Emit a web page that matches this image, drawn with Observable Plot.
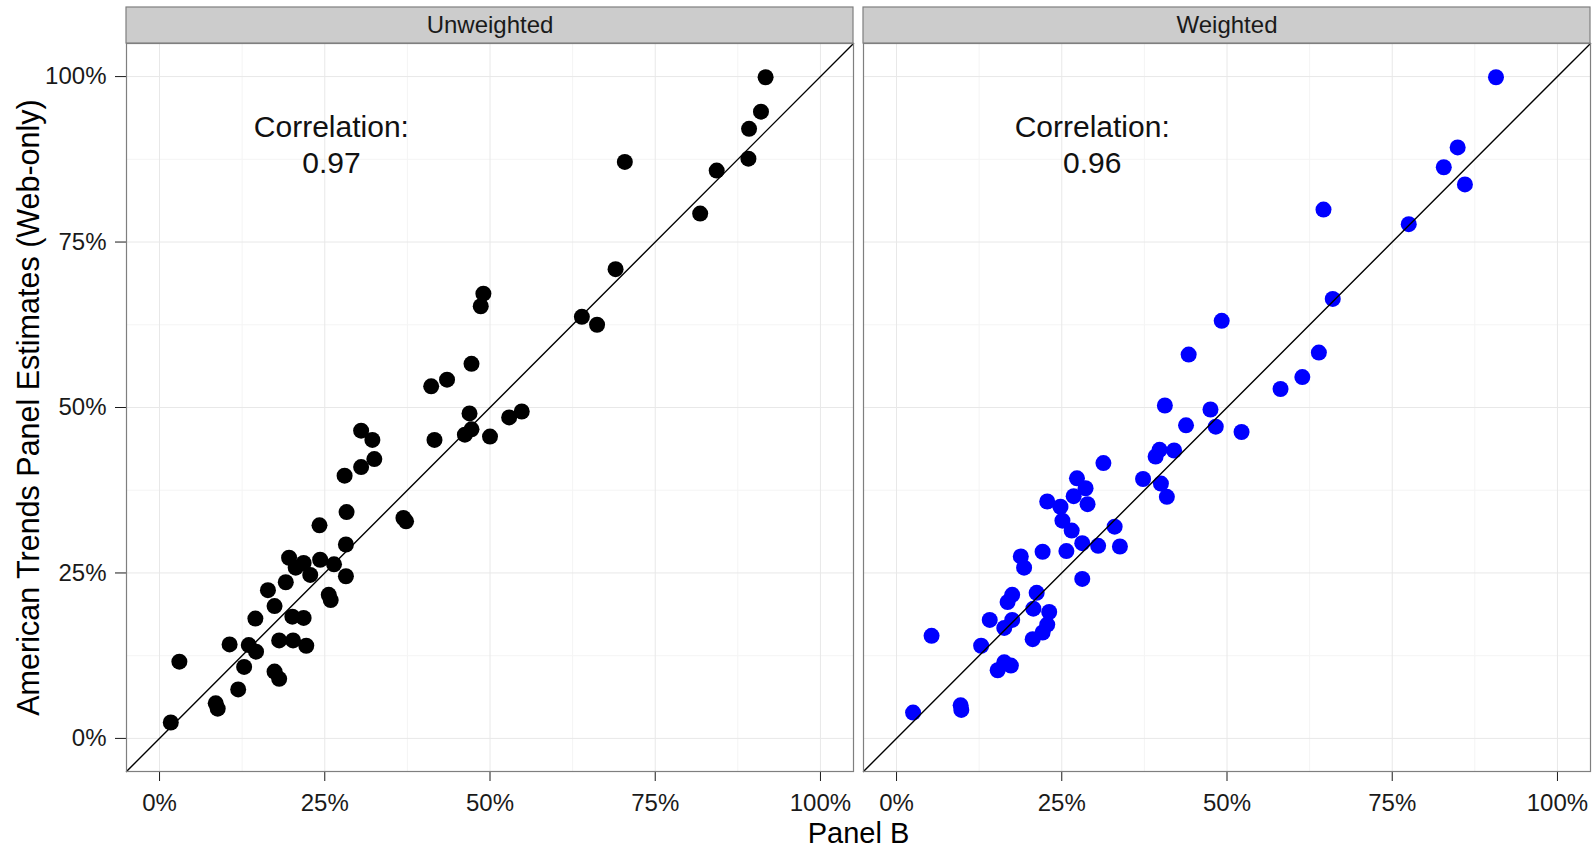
<!DOCTYPE html>
<html>
<head>
<meta charset="utf-8">
<script src="https://cdn.jsdelivr.net/npm/d3@7"></script>
<script src="https://cdn.jsdelivr.net/npm/@observablehq/plot@0.6"></script>
<style>
  html, body { margin: 0; padding: 0; background: #ffffff; }
</style>
</head>
<body>
<div id="chart"></div>
<script>
// Facet panels and the correlation reported in each
const panels = ["Unweighted", "Weighted"];
const correlations = [0.97, 0.96];

// Axis breaks (shares); major breaks are labelled, minor ones only get a grid line
const tickValues = [0, 0.25, 0.5, 0.75, 1];
const minorTickValues = [0.125, 0.375, 0.625, 0.875];

// Unweighted estimates: Panel B (x) vs American Trends Panel web-only (y)
const unweightedPanelB = [
  0.017, 0.030, 0.085, 0.088, 0.119, 0.128, 0.106, 0.135, 0.146, 0.145,
  0.164, 0.174, 0.174, 0.181, 0.181, 0.202, 0.222, 0.201, 0.218, 0.191,
  0.196, 0.206, 0.218, 0.228, 0.243, 0.264, 0.282, 0.282, 0.256, 0.259,
  0.242, 0.283, 0.280, 0.305, 0.305, 0.322, 0.325, 0.369, 0.373, 0.411,
  0.435, 0.416, 0.472, 0.490, 0.486, 0.469, 0.462, 0.472, 0.500, 0.529,
  0.548, 0.639, 0.662, 0.690, 0.704, 0.818, 0.843, 0.891, 0.892, 0.910,
  0.917
];
const unweightedATP = [
  0.024, 0.116, 0.053, 0.045, 0.074, 0.108, 0.142, 0.141, 0.131, 0.181,
  0.224, 0.200, 0.101, 0.090, 0.148, 0.148, 0.140, 0.184, 0.182, 0.236,
  0.273, 0.258, 0.265, 0.247, 0.270, 0.263, 0.293, 0.245, 0.217, 0.209,
  0.322, 0.342, 0.397, 0.410, 0.465, 0.451, 0.422, 0.333, 0.328, 0.532,
  0.542, 0.451, 0.566, 0.672, 0.653, 0.491, 0.459, 0.467, 0.456, 0.485,
  0.494, 0.637, 0.625, 0.709, 0.871, 0.793, 0.858, 0.876, 0.921, 0.947,
  0.999
];

// Weighted estimates: Panel B (x) vs American Trends Panel web-only (y)
const weightedPanelB = [
  0.025, 0.097, 0.098, 0.053, 0.128, 0.153, 0.163, 0.173, 0.141, 0.163,
  0.175, 0.168, 0.175, 0.206, 0.212, 0.207, 0.231, 0.228, 0.221, 0.188,
  0.193, 0.221, 0.281, 0.257, 0.281, 0.305, 0.338, 0.330, 0.265, 0.251,
  0.228, 0.248, 0.273, 0.268, 0.286, 0.289, 0.313, 0.373, 0.400, 0.409,
  0.392, 0.398, 0.420, 0.406, 0.438, 0.475, 0.483, 0.522, 0.442, 0.492,
  0.581, 0.614, 0.639, 0.646, 0.660, 0.775, 0.828, 0.849, 0.860, 0.907
];
const weightedATP = [
  0.039, 0.050, 0.043, 0.155, 0.140, 0.103, 0.115, 0.110, 0.179, 0.167,
  0.179, 0.206, 0.217, 0.150, 0.220, 0.196, 0.191, 0.172, 0.160, 0.275,
  0.258, 0.282, 0.241, 0.283, 0.295, 0.291, 0.290, 0.320, 0.314, 0.329,
  0.358, 0.350, 0.393, 0.366, 0.378, 0.354, 0.416, 0.392, 0.385, 0.365,
  0.426, 0.436, 0.435, 0.503, 0.473, 0.497, 0.471, 0.463, 0.580, 0.631,
  0.528, 0.546, 0.583, 0.799, 0.664, 0.777, 0.863, 0.893, 0.837, 0.999
];

const unweightedPoints = unweightedPanelB.map((x, i) => ({panel: panels[0], x, y: unweightedATP[i]}));
const weightedPoints = weightedPanelB.map((x, i) => ({panel: panels[1], x, y: weightedATP[i]}));

// Layout
const width = 1596, height = 847;
const marginLeft = 125, marginRight = 5, marginTop = 43, marginBottom = 76;
const domain = [-0.05, 1.05];
const pxPerUnit = (height - marginTop - marginBottom) / (domain[1] - domain[0]);
const stripTop = domain[1] + 36 / pxPerUnit;   // grey facet strip, 36px tall
const pct = d3.format(".0%");

const chart = Plot.plot({
  width, height, marginLeft, marginRight, marginTop, marginBottom,
  style: {
    fontFamily: "'Liberation Sans', Arial, sans-serif",
    fontSize: "24px",
    color: "#1a1a1a",
    background: "#ffffff"
  },
  fx: {domain: panels, paddingInner: 0.013, paddingOuter: 0, axis: null, label: null},
  x: {domain, ticks: tickValues, tickFormat: pct, tickSize: 10, tickPadding: 12, label: null},
  y: {domain, ticks: tickValues, tickFormat: pct, tickSize: 11, tickPadding: 9, label: null},
  marks: [
    // panel grid
    Plot.ruleX(minorTickValues, {stroke: "#f4f4f4", strokeWidth: 1}),
    Plot.ruleY(minorTickValues, {stroke: "#f4f4f4", strokeWidth: 1}),
    Plot.ruleX(tickValues, {stroke: "#e8e8e8", strokeWidth: 1}),
    Plot.ruleY(tickValues, {stroke: "#e8e8e8", strokeWidth: 1}),

    // points
    Plot.dot(unweightedPoints, {fx: "panel", x: "x", y: "y", r: 8, fill: "#000000", stroke: null}),
    Plot.dot(weightedPoints, {fx: "panel", x: "x", y: "y", r: 8, fill: "#0000ff", stroke: null}),

    // identity line y = x across the panel
    Plot.line(domain, {x: (d) => d, y: (d) => d, stroke: "#000000", strokeWidth: 1.4}),

    // correlation annotation
    Plot.text(panels, {
      fx: (d) => d,
      x: (d, i) => [0.26, 0.296][i],
      y: 0.899,
      text: (d, i) => `Correlation:\n${correlations[i].toFixed(2)}`,
      fontSize: 30,
      lineHeight: 1.2,
      fill: "#111111"
    }),

    // panel border
    Plot.frame({stroke: "#7f7f7f", strokeWidth: 1.2}),

    // facet strips
    Plot.rect(panels, {
      fx: (d) => d,
      x1: domain[0], x2: domain[1], y1: domain[1], y2: stripTop,
      fill: "#cccccc", stroke: "#7f7f7f", strokeWidth: 1.2
    }),
    Plot.text(panels, {
      fx: (d) => d,
      x: (domain[0] + domain[1]) / 2,
      y: (domain[1] + stripTop) / 2,
      text: (d) => d,
      fontSize: 24,
      fill: "#1a1a1a"
    }),

    // axis titles
    Plot.text([panels[0]], {
      fx: (d) => d,
      text: () => "American Trends Panel Estimates (Web-only)",
      frameAnchor: "left",
      textAnchor: "middle",
      rotate: -90,
      dx: -97,
      fontSize: 30.5,
      fill: "#000000"
    }),
    Plot.text([panels[0]], {
      fx: (d) => d,
      text: () => "Panel B",
      frameAnchor: "bottom-right",
      textAnchor: "middle",
      lineAnchor: "bottom",
      dx: 5,
      dy: 71,
      fontSize: 29,
      fill: "#000000"
    })
  ]
});

document.getElementById("chart").appendChild(chart);
</script>
</body>
</html>
